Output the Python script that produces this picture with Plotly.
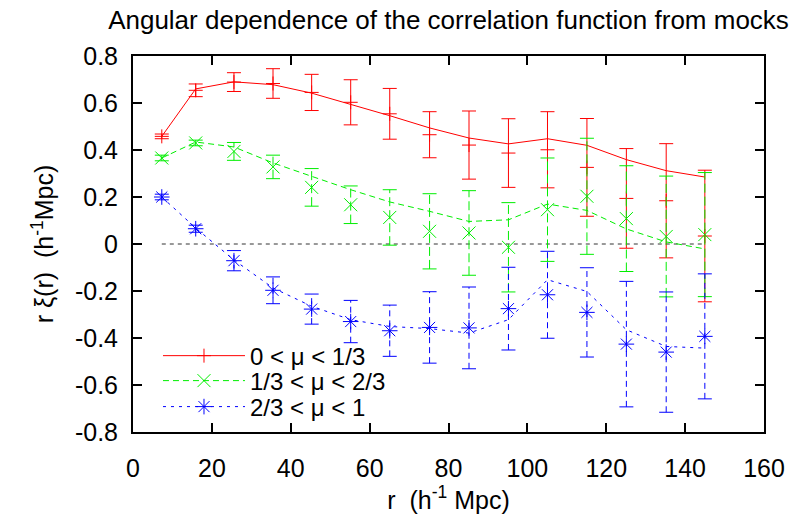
import plotly.graph_objects as go

# ---- data ----
r = [7.3, 15.9, 25.6, 35.5, 45.3, 55.2, 65.1, 75.2, 85.2, 95.2, 105.1, 115.1, 125.1, 135.2, 145.0]

xi_low_pts = [0.458, 0.654, 0.689, 0.683, 0.645, 0.603, 0.554, 0.465, 0.421, 0.387, 0.401, 0.326, 0.194, 0.184, 0.034]
xi_low_err = [0.010, 0.027, 0.040, 0.063, 0.077, 0.096, 0.108, 0.098, 0.145, 0.146, 0.162, 0.208, 0.212, 0.243, 0.280]
xi_low_line = [0.458, 0.660, 0.690, 0.678, 0.642, 0.595, 0.546, 0.494, 0.451, 0.426, 0.448, 0.420, 0.359, 0.312, 0.285]

xi_mid_pts = [0.366, 0.430, 0.394, 0.328, 0.241, 0.167, 0.113, 0.054, 0.047, -0.014, 0.146, 0.203, 0.108, 0.032, 0.040]
xi_mid_err = [0.012, 0.012, 0.038, 0.050, 0.080, 0.080, 0.118, 0.160, 0.180, 0.190, 0.220, 0.247, 0.225, 0.257, 0.264]
xi_mid_line = [0.366, 0.434, 0.413, 0.345, 0.288, 0.231, 0.179, 0.139, 0.096, 0.103, 0.170, 0.143, 0.064, 0.009, -0.021]

xi_high_pts = [0.200, 0.065, -0.071, -0.197, -0.277, -0.330, -0.369, -0.355, -0.357, -0.275, -0.216, -0.291, -0.426, -0.460, -0.393]
xi_high_err = [0.012, 0.015, 0.043, 0.057, 0.064, 0.090, 0.109, 0.152, 0.174, 0.176, 0.185, 0.190, 0.267, 0.256, 0.266]
xi_high_line = [0.200, 0.068, -0.068, -0.187, -0.265, -0.322, -0.351, -0.360, -0.379, -0.322, -0.152, -0.202, -0.365, -0.436, -0.443]

labels = ["0 < \u03bc < 1/3", "1/3 < \u03bc < 2/3", "2/3 < \u03bc < 1"]

x_ticks = [0, 20, 40, 60, 80, 100, 120, 140, 160]
y_ticks = [-0.8, -0.6, -0.4, -0.2, 0, 0.2, 0.4, 0.6, 0.8]
y_ticktext = ["-0.8", "-0.6", "-0.4", "-0.2", "0", "0.2", "0.4", "0.6", "0.8"]

FONT = "Liberation Sans, Arial, sans-serif"

styles = [
    dict(color="#ff0000", line_dash="solid", err_dash="solid", symbol="cross-thin-open", msize=10),
    dict(color="#00ee00", line_dash="6px,4px", err_dash="9px,4px", symbol="x-thin-open", msize=13),
    dict(color="#0000ff", line_dash="3px,5px", err_dash="6px,4px", symbol="asterisk-open", msize=13),
]
series = [
    (xi_low_pts, xi_low_err, xi_low_line),
    (xi_mid_pts, xi_mid_err, xi_mid_line),
    (xi_high_pts, xi_high_err, xi_high_line),
]
legend_ids = ["legend", "legend2", "legend3"]
legend_rows = [0.202, 0.1356, 0.0665]   # vertical position of each legend row (paper)

fig = go.Figure()

# zero reference line across the data range
fig.add_trace(go.Scatter(x=[r[0], r[-1]], y=[0, 0], mode="lines",
                         line=dict(color="#333333", width=1, dash="4px,4px"),
                         showlegend=False, hoverinfo="skip"))

for (pts, err, line), st, lab, lg in zip(series, styles, labels, legend_ids):
    col = st["color"]
    # model curve
    fig.add_trace(go.Scatter(x=r, y=line, mode="lines",
                             line=dict(color=col, width=1, dash=st["line_dash"]),
                             showlegend=False))
    # error bar stems
    ex, ey = [], []
    for xv, yv, ev in zip(r, pts, err):
        ex += [xv, xv, None]
        ey += [yv - ev, yv + ev, None]
    fig.add_trace(go.Scatter(x=ex, y=ey, mode="lines",
                             line=dict(color=col, width=1, dash=st["err_dash"]),
                             showlegend=False, hoverinfo="skip"))
    # error bar caps
    fig.add_trace(go.Scatter(x=r + r,
                             y=[p - e for p, e in zip(pts, err)] + [p + e for p, e in zip(pts, err)],
                             mode="markers",
                             marker=dict(symbol="line-ew-open", size=10, color=col,
                                         line=dict(color=col, width=1)),
                             showlegend=False, hoverinfo="skip"))
    # data points
    fig.add_trace(go.Scatter(x=r, y=pts, mode="markers",
                             marker=dict(symbol=st["symbol"], size=st["msize"], color=col,
                                         line=dict(color=col, width=1)),
                             showlegend=False))
    # legend entry
    fig.add_trace(go.Scatter(x=[None], y=[None], mode="lines+markers", name=lab, legend=lg,
                             line=dict(color=col, width=1, dash=st["line_dash"]),
                             marker=dict(symbol=st["symbol"], size=st["msize"], color=col,
                                         line=dict(color=col, width=1))))

axis_common = dict(showline=True, linecolor="black", linewidth=2, mirror="allticks",
                   ticks="inside", ticklen=9, tickwidth=1.5, tickcolor="black",
                   showgrid=False, zeroline=False, automargin=False,
                   tickfont=dict(family=FONT, size=25, color="black"))

legend_common = dict(x=0.0396, xanchor="left", yanchor="middle",
                     bgcolor="rgba(0,0,0,0)", itemwidth=82,
                     font=dict(family=FONT, size=24, color="black"))

fig.update_layout(
    width=792, height=515,
    margin=dict(l=133, r=28, t=56, b=83, autoexpand=False),
    paper_bgcolor="white", plot_bgcolor="white",
    font=dict(family=FONT, size=25, color="black"),
    title=dict(text="Angular dependence of the correlation function from mocks",
               x=0.5, xref="paper", y=1 - 20 / 515, yref="container",
               xanchor="center", yanchor="middle",
               font=dict(family=FONT, size=26, color="black")),
    xaxis=dict(range=[0, 160], tickvals=x_ticks, ticklabelstandoff=13,
               title=dict(text="r  (h<sup>-1</sup> Mpc)", standoff=9,
                          font=dict(family=FONT, size=25)),
               **axis_common),
    yaxis=dict(range=[-0.8, 0.8], tickvals=y_ticks, ticktext=y_ticktext, ticklabelstandoff=8,
               title=dict(text="r \u03be(r)  (h<sup>-1</sup>Mpc)", standoff=14,
                          font=dict(family=FONT, size=25)),
               **axis_common),
    legend=dict(y=legend_rows[0], **legend_common),
    legend2=dict(y=legend_rows[1], **legend_common),
    legend3=dict(y=legend_rows[2], **legend_common),
    showlegend=True,
)

fig.write_html("out.html", include_plotlyjs=True, config={"displayModeBar": False})
